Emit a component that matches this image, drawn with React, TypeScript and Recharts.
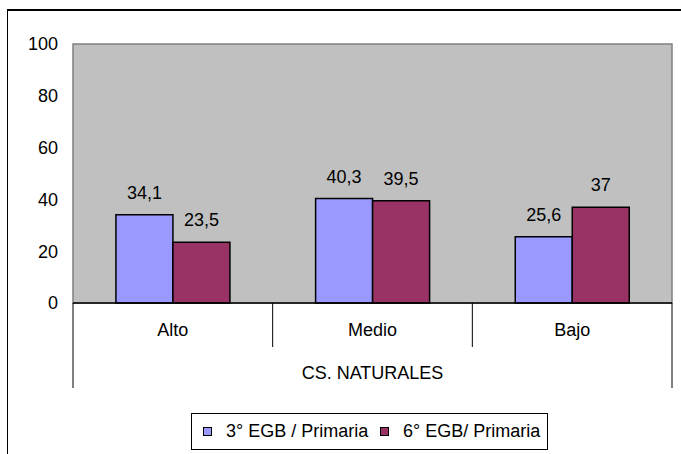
import React from 'react';
import { BarChart, Bar, XAxis, YAxis, ReferenceArea, LabelList, Legend } from 'recharts';

const categories = ['Alto', 'Medio', 'Bajo'];
const tercero = [34.1, 40.3, 25.6];
const sexto = [23.5, 39.5, 37];
const yTicks = [0, 20, 40, 60, 80, 100];

const seriesNames = ['3° EGB / Primaria', '6° EGB/ Primaria'];
const colors = ['#9999FF', '#993366'];

const data = categories.map((c, i) => ({ name: c, s3: tercero[i], s6: sexto[i] }));

const font = '"Liberation Sans", Arial, sans-serif';
const fmt = (v: any) => String(v).replace('.', ',');

const CategoryTick = (props: any) => {
  const { x, y, payload, index, visibleTicksCount } = props;
  const half = payload.offset || 100;
  const last = index === visibleTicksCount - 1;
  return (
    <g>
      <line x1={x - half} x2={x - half} y1={y} y2={y + (index === 0 ? 85 : 44)} stroke="#000" />
      {last && <line x1={x + half} x2={x + half} y1={y} y2={y + 85} stroke="#000" />}
      <text x={x} y={y + 33} textAnchor="middle" fontSize={18} fill="#000" fontFamily={font}>
        {payload.value}
      </text>
    </g>
  );
};

const LegendBox = () => (
  <div
    style={{
      marginLeft: 191,
      width: 355,
      height: 35,
      border: '1px solid #000',
      display: 'flex',
      alignItems: 'center',
      fontFamily: font,
      fontSize: 18,
      color: '#000',
      boxSizing: 'content-box',
    }}
  >
    {seriesNames.map((n, i) => (
      <div key={n} style={{ display: 'flex', alignItems: 'center', marginLeft: 11, width: i === 0 ? 166 : undefined }}>
        <span style={{ width: 7, height: 7, background: colors[i], border: '1px solid #000', display: 'inline-block' }} />
        <span style={{ marginLeft: 14, whiteSpace: 'nowrap' }}>{n}</span>
      </div>
    ))}
  </div>
);

export default function App() {
  return (
    <div style={{ position: 'absolute', left: 0, top: 0, width: 681, height: 454, overflow: 'hidden', background: '#fff' }}>
      <div
        style={{
          position: 'absolute',
          left: 7,
          top: 9,
          width: 720,
          height: 500,
          borderTop: '2px solid #000',
          borderLeft: '1px solid #000',
        }}
      />
      <BarChart
        width={681}
        height={454}
        data={data}
        margin={{ top: 44, right: 9, left: 0, bottom: 0 }}
        barCategoryGap="21.5%"
        barGap={0}
        style={{ position: 'absolute', left: 0, top: 0 }}
      >
        <ReferenceArea y1={0} y2={100} fill="#C0C0C0" fillOpacity={1} stroke="#808080" strokeWidth={1.5} />
        <YAxis
          width={73}
          domain={[0, 100]}
          ticks={yTicks}
          axisLine={false}
          tickLine={false}
          tickSize={0}
          tickMargin={15}
          tick={{ fill: '#000', fontSize: 18, fontFamily: font }}
        />
        <XAxis
          dataKey="name"
          height={110}
          axisLine={{ stroke: '#000', strokeWidth: 1.5 }}
          tickLine={false}
          tickSize={0}
          tickMargin={0}
          interval={0}
          tick={<CategoryTick />}
          label={{ value: 'CS. NATURALES', position: 'insideBottom', offset: 34, fill: '#000', fontSize: 18, fontFamily: font }}
        />
        <Legend verticalAlign="bottom" align="left" wrapperStyle={{ height: 41 }} content={<LegendBox />} />
        <Bar dataKey="s3" name={seriesNames[0]} fill={colors[0]} stroke="#000" strokeWidth={1.5} isAnimationActive={false}>
          <LabelList dataKey="s3" position="top" offset={16} formatter={fmt} fill="#000" fontSize={18} fontFamily={font} />
        </Bar>
        <Bar dataKey="s6" name={seriesNames[1]} fill={colors[1]} stroke="#000" strokeWidth={1.5} isAnimationActive={false}>
          <LabelList dataKey="s6" position="top" offset={16} formatter={fmt} fill="#000" fontSize={18} fontFamily={font} />
        </Bar>
      </BarChart>
    </div>
  );
}
